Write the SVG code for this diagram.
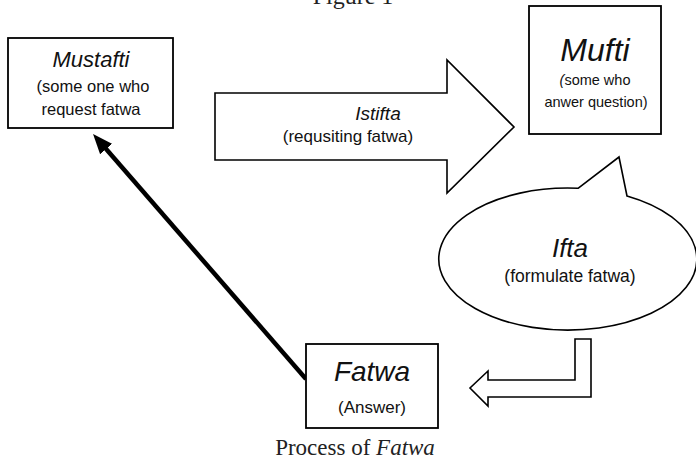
<svg xmlns="http://www.w3.org/2000/svg" width="696" height="469" viewBox="0 0 696 469">
<style>
.box{fill:#fff;stroke:#000;stroke-width:1.8}
.shape{fill:#fff;stroke:#000;stroke-width:1.6;stroke-linejoin:miter}
.t{font-family:"Liberation Sans",Arial,sans-serif;fill:#111;text-anchor:middle}
.i{font-style:italic}
.serif{font-family:"Liberation Serif","Times New Roman",serif;fill:#222;text-anchor:middle}
</style>
<defs>
<marker id="ah" viewBox="0 0 20 16" refX="10" refY="8" markerWidth="20" markerHeight="16" markerUnits="userSpaceOnUse" orient="auto">
<path d="M0,0 L20,8 L0,16 Z" fill="#000"/>
</marker>
</defs>
<rect width="696" height="469" fill="#fff"/>
<text class="serif" x="353" y="4" font-size="24">Figure 1</text>

<g id="connectors">
<path id="istifta-arrow" class="shape" d="M215,93 L447,93 L447,60 L514,127 L447,193 L447,160 L215,160 Z"/>
<path id="return-arrow" class="shape" d="M575,339 L591,339 L591,397 L488,397 L488,406 L470,388 L488,371 L488,380 L575,380 Z"/>
<line id="answer-arrow" x1="306" y1="379" x2="99.6" y2="141.5" stroke="#000" stroke-width="4.5" marker-end="url(#ah)"/>
<text class="t i" x="378" y="120" font-size="19">Istifta</text>
<text class="t" x="348" y="142" font-size="17">(requsiting fatwa)</text>
</g>

<g id="mustafti">
<rect class="box" x="8" y="38" width="165" height="90"/>
<text class="t i" x="91" y="67" font-size="22">Mustafti</text>
<text class="t" x="93" y="92" font-size="16.5">(some one who</text>
<text class="t" x="91" y="115" font-size="16.5">request fatwa</text>
</g>

<g id="mufti">
<rect class="box" x="529" y="6" width="132" height="128"/>
<text class="t i" x="595" y="61" font-size="32">Mufti</text>
<text class="t" x="595" y="85" font-size="14.5"><tspan font-style="italic">(</tspan>some who</text>
<text class="t" x="596" y="107" font-size="14.5">anwer question)</text>
</g>

<g id="ifta">
<path class="shape" d="M578,188.3 L619,157 L627,196 A129,71 0 1 1 578,188.3 Z"/>
<text class="t i" x="570" y="257" font-size="26">Ifta</text>
<text class="t" x="570" y="282" font-size="17.5">(formulate fatwa)</text>
</g>

<g id="fatwa">
<rect class="box" x="306" y="344" width="132" height="84"/>
<text class="t i" x="372" y="381" font-size="28">Fatwa</text>
<text class="t" x="372" y="413" font-size="17">(Answer)</text>
</g>

<text class="serif" x="355" y="455" font-size="23">Process of <tspan font-style="italic">Fatwa</tspan></text>
</svg>
